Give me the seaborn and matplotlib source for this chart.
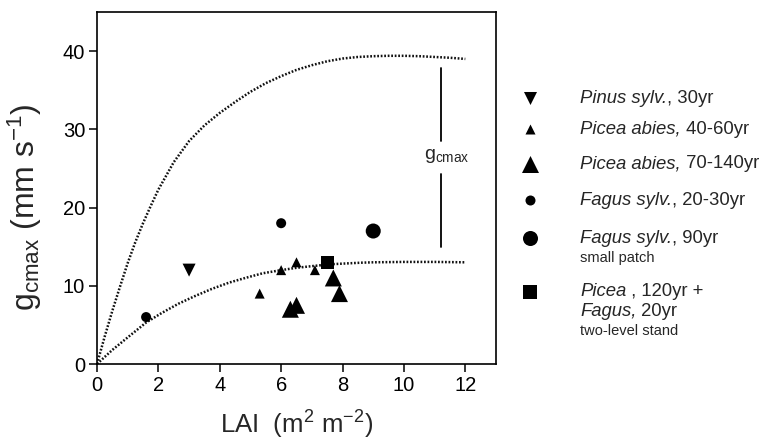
import matplotlib
matplotlib.use("Agg")
import matplotlib.pyplot as plt
import numpy as np
import pandas as pd
import seaborn as sns

# ---------------- data ----------------
group_names = ["Pinus 30", "Picea 40-60", "Picea 70-140", "Fagus 20-30", "Fagus 90", "Picea+Fagus"]

lai_pinus = [3.0]
g_pinus = [12.0]
lai_picea_young = [5.3, 6.0, 6.5, 7.1]
g_picea_young = [9.0, 12.0, 13.0, 12.0]
lai_picea_old = [6.3, 6.5, 7.7, 7.9]
g_picea_old = [7.0, 7.5, 11.0, 9.0]
lai_fagus_young = [1.6, 6.0]
g_fagus_young = [6.0, 18.0]
lai_fagus_old = [9.0]
g_fagus_old = [17.0]
lai_mixed = [7.5]
g_mixed = [13.0]

upper_curve_lai = [0, 0.25, 0.5, 0.75, 1.0, 1.25, 1.5, 1.75, 2.0, 2.5, 3.0, 3.5, 4.0, 4.5, 5.0,
                   5.5, 6.0, 6.5, 7.0, 7.5, 8.0, 8.5, 9.0, 9.5, 10.0, 10.5, 11.0, 11.5, 12.0]
upper_curve_g = [0, 3.5, 6.8, 9.9, 12.9, 15.6, 18.0, 20.2, 22.3, 25.8, 28.5, 30.5, 32.1, 33.5, 34.8,
                 35.9, 36.8, 37.6, 38.2, 38.7, 39.05, 39.25, 39.35, 39.4, 39.4, 39.35, 39.25, 39.15, 39.0]
lower_curve_lai = [0, 0.5, 1.0, 1.6, 2.1, 2.65, 3.2, 3.74, 4.3, 4.83, 5.4, 6.0, 6.5, 7.1,
                   7.6, 8.1, 8.6, 9.0, 10.0, 11.0, 12.0]
lower_curve_g = [0, 1.8, 3.4, 5.3, 6.5, 7.7, 8.7, 9.6, 10.4, 11.0, 11.6, 12.0, 12.3, 12.55,
                 12.75, 12.85, 12.95, 13.0, 13.05, 13.05, 13.0]

gcmax_bar_lai = 11.2
gcmax_bar_upper = [28.5, 37.9]
gcmax_bar_lower = [14.9, 24.3]

x_ticks = [0, 2, 4, 6, 8, 10, 12]
y_ticks = [0, 10, 20, 30, 40]

legend_italic = ["Pinus sylv.", "Picea abies,", "Picea abies,", "Fagus sylv.", "Fagus sylv.", "Picea"]
legend_plain = [", 30yr", " 40-60yr", " 70-140yr", ", 20-30yr", ", 90yr", " , 120yr +"]

# ---------------- style ----------------
sns.set_style("ticks")
plt.rcParams["font.family"] = ["Liberation Sans", "DejaVu Sans"]
plt.rcParams["mathtext.fontset"] = "custom"
plt.rcParams["mathtext.rm"] = "Liberation Sans"
plt.rcParams["mathtext.it"] = "Liberation Sans:italic"
plt.rcParams["mathtext.bf"] = "Liberation Sans:bold"

markers = {"Pinus 30": "v", "Picea 40-60": "^", "Picea 70-140": "^",
           "Fagus 20-30": "o", "Fagus 90": "o", "Picea+Fagus": "s"}
sizes = {"Pinus 30": 88, "Picea 40-60": 52, "Picea 70-140": 150,
         "Fagus 20-30": 52, "Fagus 90": 117, "Picea+Fagus": 88}

rows = []
for name, xs, ys in zip(group_names,
                        [lai_pinus, lai_picea_young, lai_picea_old, lai_fagus_young, lai_fagus_old, lai_mixed],
                        [g_pinus, g_picea_young, g_picea_old, g_fagus_young, g_fagus_old, g_mixed]):
    for xv, yv in zip(xs, ys):
        rows.append({"LAI": xv, "g": yv, "group": name})
df = pd.DataFrame(rows)

fig = plt.figure(figsize=(7.66, 4.43), dpi=100)
ax = fig.add_axes([97 / 766, 1 - 364 / 443, 399 / 766, 352 / 443])

dot_style = (0, (0.7, 0.7))
ax.plot(upper_curve_lai, upper_curve_g, color="#111111", lw=1.8, linestyle=dot_style, zorder=2)
ax.plot(lower_curve_lai, lower_curve_g, color="#111111", lw=1.8, linestyle=dot_style, zorder=2)

sns.scatterplot(data=df, x="LAI", y="g", style="group", size="group", hue="group",
                palette={k: "black" for k in group_names},
                markers=markers, sizes=sizes, linewidth=0, legend=False, ax=ax, zorder=3)

ax.plot([gcmax_bar_lai] * 2, gcmax_bar_upper, color="black", lw=1.3)
ax.plot([gcmax_bar_lai] * 2, gcmax_bar_lower, color="black", lw=1.3)
ax.text(11.4, 26.6, r"g$_{\mathrm{cmax}}$", fontsize=14, ha="center", va="center")

ax.set_xlim(0, 13)
ax.set_ylim(0, 45)
ax.set_xticks(x_ticks)
ax.set_yticks(y_ticks)
ax.tick_params(direction="out", length=5.5, width=1.1, labelsize=14.5, pad=3, colors="black")
for sp in ax.spines.values():
    sp.set_visible(True)
    sp.set_linewidth(1.2)
    sp.set_color("black")

ax.set_xlabel(r"LAI  (m$^{2}$ m$^{-2}$)", fontsize=18.5)
ax.set_ylabel(r"g$_{\mathrm{cmax}}$ (mm s$^{-1}$)", fontsize=23)
ax.xaxis.set_label_coords(0.5, -0.128)
ax.yaxis.set_label_coords(-0.132, 0.445)

# ---------------- legend (manual, pixel coordinates) ----------------
lax = fig.add_axes([0, 0, 1, 1], zorder=5)
lax.set_xlim(0, 766)
lax.set_ylim(443, 0)
lax.axis("off")

mx, tx = 530, 580
leg_markers = [("v", 88), ("^", 52), ("^", 150), ("o", 52), ("o", 117), ("s", 88)]
leg_y = [98, 129, 164, 200, 238, 292]


def mixed_text(x, y, italic, plain, size=13.3):
    t1 = lax.text(x, y, italic, fontsize=size, style="italic", ha="left", va="center")
    lax.annotate(plain, xy=(1, 0.5), xycoords=t1, fontsize=size, ha="left", va="center")


for (m, s), y, it, pl in zip(leg_markers, leg_y, legend_italic, legend_plain):
    lax.scatter([mx], [y], marker=m, s=s, color="black", linewidths=0)
    mixed_text(tx, y, it, pl)
mixed_text(tx, 312, "Fagus,", " 20yr")
lax.text(tx, 258, "small patch", fontsize=10.5, ha="left", va="center")
lax.text(tx, 331, "two-level stand", fontsize=10.5, ha="left", va="center")

fig.savefig("out.png", dpi=100)
